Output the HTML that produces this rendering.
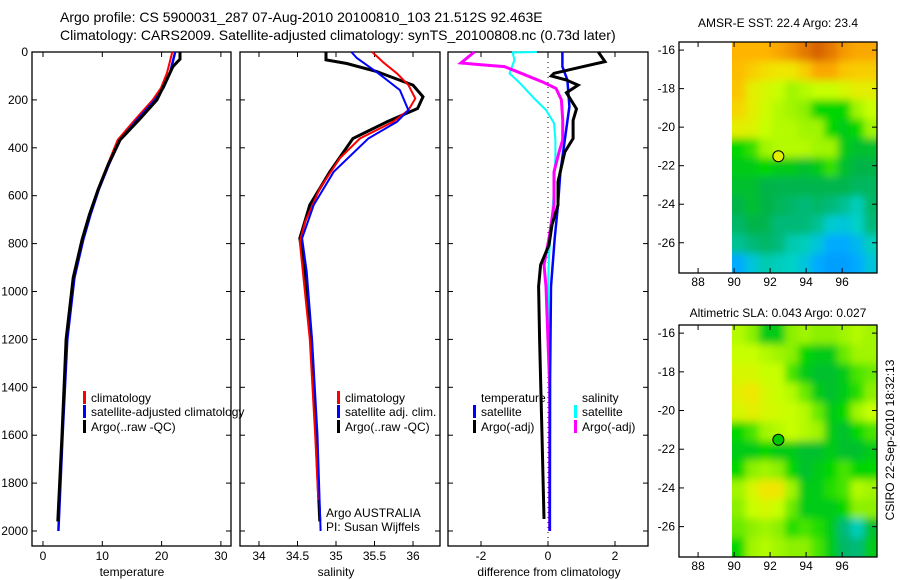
<!DOCTYPE html>
<html><head><meta charset="utf-8"><style>
body{margin:0;background:#fff;}
svg{display:block;font-family:"Liberation Sans",sans-serif;}
</style></head><body>
<svg id="chart" width="900" height="580" viewBox="0 0 900 580" xmlns="http://www.w3.org/2000/svg">
<defs>
<filter id="blur" x="-5%" y="-5%" width="110%" height="110%"><feGaussianBlur stdDeviation="4"/></filter>
<clipPath id="clip1"><rect x="732" y="42" width="145" height="231"/></clipPath>
<clipPath id="clip2"><rect x="732" y="325" width="145" height="232"/></clipPath>
</defs>
<text x="60" y="22" font-size="14">Argo profile: CS 5900031_287 07-Aug-2010 20100810_103 21.512S 92.463E</text>
<text x="60" y="40" font-size="14">Climatology: CARS2009. Satellite-adjusted climatology: synTS_20100808.nc (0.73d later)</text>
<g id="g"></g>
<text x="326" y="517" font-size="12">Argo AUSTRALIA</text>
<text x="326" y="531" font-size="12">PI: Susan Wijffels</text>
<text x="778" y="27" font-size="12" text-anchor="middle">AMSR-E SST: 22.4  Argo: 23.4</text>
<text x="778" y="317" font-size="12" text-anchor="middle">Altimetric SLA: 0.043  Argo: 0.027</text>
<text transform="translate(894,440) rotate(-90)" font-size="12" text-anchor="middle">CSIRO 22-Sep-2010 18:32:13</text>
</svg>
<script>
// ---- data ----
const depthTicks=[0,200,400,600,800,1000,1200,1400,1600,1800,2000];
const tempTicks=[0,10,20,30];
const salTicks=[34,34.5,35,35.5,36];
const salTickLabels=["34","34.5","35","35.5","36"];
const diffTicks=[-2,0,2];
const latTicks=[-16,-18,-20,-22,-24,-26];
const lonTicks=[88,90,92,94,96];

const tDepthArgo=[0,30,61,120,200,280,367,470,575,680,783,943,1200,1600,1960];
const tArgo=[23.1,23.1,21.9,20.8,19.2,16.3,13.0,11.0,9.3,7.8,6.6,5.1,3.9,3.2,2.5];
const tDepthClim=[0,89,150,200,280,367,470,575,680,783,943,1200,1600,1870];
const tClim=[21.8,20.9,19.9,18.5,15.6,12.6,10.9,9.2,7.9,6.7,5.2,4.0,3.3,2.7];
const tDepthSat=[0,89,150,200,280,367,470,575,680,783,943,1200,1600,2000];
const tSat=[22.3,21.4,20.3,18.9,16.0,13.0,11.1,9.4,8.0,6.8,5.3,4.1,3.3,2.6];

const sDepthArgo=[0,33,48,82,138,187,236,292,361,500,639,778,917,1200,1600,1960];
const sArgo=[34.87,34.87,35.14,35.53,36.0,36.13,36.06,35.66,35.22,34.92,34.66,34.53,34.6,34.68,34.74,34.79];
const sDepthClim=[0,42,89,138,194,243,292,361,444,570,708,792,1200,1600,1870];
const sClim=[35.47,35.61,35.79,35.94,36.03,35.94,35.74,35.31,35.05,34.79,34.6,34.53,34.66,34.73,34.77];
const sDepthSat=[0,25,89,159,243,292,361,500,639,778,917,1200,1600,2000];
const sSat=[35.2,35.27,35.55,35.83,35.94,35.79,35.42,34.97,34.71,34.56,34.62,34.69,34.76,34.8];

const dDepthT=[0,40,61,89,100,117,138,170,237,285,361,417,542,639,722,806,889,979,1200,1600,1950];
const dTArgo=[1.5,1.7,1.05,0.18,0.1,0.55,0.9,0.55,0.85,0.75,0.75,0.5,0.3,0.3,0.12,0.03,-0.22,-0.28,-0.25,-0.18,-0.12];
const dDepthTS=[0,61,117,228,367,500,639,778,979,1400,2000];
const dTSat=[0.43,0.43,0.58,0.64,0.5,0.37,0.3,0.2,0.09,0.06,0.05];
const dDepthS=[0,46,53,61,89,124,152,200,283,367,417,500,639,778,889,979,1400,2000];
const dSArgo=[-2.2,-2.6,-2.0,-1.3,-0.8,-0.18,0.24,0.4,0.44,0.44,0.33,0.18,0.18,0.03,-0.12,-0.06,0.05,0.05];
const dDepthC=[0,2,6,33,89,131,200,242,297,367,436,575,714,850,979,1400,2000];
const dSSat=[-0.33,-1.05,-1.05,-1.0,-1.15,-0.83,-0.37,-0.06,0.18,0.22,0.22,0.18,0.1,0.03,0.0,0.04,0.06];

const sstGrid=[
[0.88,0.88,0.88,0.9,0.93,0.97,1.0,0.97,0.92,0.9,0.9],
[0.87,0.85,0.83,0.82,0.82,0.85,0.9,0.9,0.86,0.85,0.85],
[0.86,0.8,0.78,0.76,0.72,0.74,0.76,0.76,0.78,0.8,0.8],
[0.84,0.8,0.77,0.74,0.72,0.7,0.62,0.62,0.62,0.72,0.76],
[0.8,0.79,0.76,0.74,0.74,0.72,0.72,0.62,0.6,0.62,0.72],
[0.62,0.65,0.72,0.74,0.74,0.74,0.72,0.72,0.6,0.58,0.58],
[0.6,0.6,0.62,0.6,0.6,0.58,0.6,0.65,0.58,0.56,0.56],
[0.58,0.58,0.56,0.55,0.55,0.55,0.55,0.55,0.55,0.53,0.53],
[0.56,0.58,0.56,0.54,0.52,0.5,0.52,0.5,0.48,0.45,0.52],
[0.52,0.56,0.55,0.5,0.5,0.5,0.48,0.43,0.42,0.44,0.5],
[0.48,0.5,0.52,0.5,0.46,0.45,0.42,0.38,0.38,0.4,0.45],
[0.38,0.42,0.46,0.45,0.44,0.42,0.38,0.36,0.36,0.38,0.42]];
const slaGrid=[
[0.74,0.7,0.6,0.6,0.7,0.72,0.7,0.7,0.72,0.74,0.72],
[0.76,0.76,0.74,0.72,0.7,0.62,0.6,0.6,0.68,0.72,0.72],
[0.78,0.78,0.76,0.76,0.66,0.6,0.58,0.58,0.6,0.66,0.68],
[0.8,0.82,0.78,0.76,0.74,0.68,0.6,0.58,0.6,0.64,0.7],
[0.78,0.8,0.78,0.77,0.76,0.74,0.68,0.6,0.62,0.72,0.76],
[0.62,0.66,0.72,0.74,0.76,0.74,0.72,0.6,0.58,0.62,0.66],
[0.6,0.6,0.62,0.6,0.6,0.58,0.58,0.6,0.58,0.58,0.6],
[0.62,0.7,0.72,0.7,0.62,0.58,0.6,0.62,0.66,0.62,0.62],
[0.72,0.78,0.82,0.82,0.72,0.6,0.6,0.64,0.66,0.74,0.72],
[0.7,0.76,0.78,0.76,0.68,0.6,0.6,0.6,0.62,0.7,0.7],
[0.68,0.7,0.72,0.7,0.64,0.66,0.64,0.6,0.5,0.45,0.58],
[0.62,0.72,0.74,0.72,0.7,0.7,0.66,0.6,0.52,0.5,0.6]];
const argoLon=92.46, argoLat=-21.51;

// ---- helpers ----
const NS="http://www.w3.org/2000/svg";
const G=document.getElementById('g');
function mk(tag,attrs,parent){const e=document.createElementNS(NS,tag);for(const k in attrs)e.setAttribute(k,attrs[k]);(parent||G).appendChild(e);return e;}
const yD=d=>52+d*0.2395;
const xT=t=>43+5.93*t;
const xS=s=>259+77*(s-34);
const xDf=v=>548+33.5*v;

function panel(name,x0,x1,y0,y1){
  const r=mk('rect',{x:x0,y:y0,width:x1-x0,height:y1-y0,fill:'none',stroke:'#000','stroke-width':1.3});
  
  
}
function line(name,xs,ys,fx,color,w){
  const pts=xs.map((v,i)=>fx(v).toFixed(1)+','+yD(ys[i]).toFixed(1)).join(' ');
  const p=mk('polyline',{points:pts,fill:'none',stroke:color,'stroke-width':w,'stroke-linejoin':'miter'});
  
  
}
function txt(name,x,y,s,anchor,size){
  const t=mk('text',{x:x,y:y,'font-size':size||12,'text-anchor':anchor||'start'});
  t.textContent=s;
  
  
}
function hticks(x0,x1,y0,y1,vals,f){
  vals.forEach(v=>{const x=f(v);mk('line',{x1:x,x2:x,y1:y1,y2:y1-5,stroke:'#000'});mk('line',{x1:x,x2:x,y1:y0,y2:y0+5,stroke:'#000'});});
}
function vticks(x0,x1,vals,f){
  vals.forEach(v=>{const y=f(v);mk('line',{x1:x0,x2:x0+5,y1:y,y2:y,stroke:'#000'});mk('line',{x1:x1,x2:x1-5,y1:y,y2:y,stroke:'#000'});});
}
function legend(name,x,y,color,label){
  const r=mk('rect',{x:x,y:y-11,width:3,height:13,fill:color});
  
  
  txt(name,x+8,y,label);
}

const T0=52,B0=546;
// Panel 1 temperature
panel('temperature-panel',32,231,T0,B0);
hticks(32,231,T0,B0,tempTicks,xT);vticks(32,231,depthTicks,yD);
tempTicks.forEach(v=>txt('temp-tick-'+v,xT(v),560,String(v),'middle'));
depthTicks.forEach(v=>txt('depth-tick-'+v,28,yD(v)+4,String(v),'end'));
txt('temperature-axis-title',xT(15),576,'temperature','middle');
line('temp-climatology',tClim,tDepthClim,xT,'#f00',2);
line('temp-satellite',tSat,tDepthSat,xT,'#00f',2.5);
line('temp-argo',tArgo,tDepthArgo,xT,'#000',3);
// Panel 2 salinity
panel('salinity-panel',240,440,T0,B0);
hticks(240,440,T0,B0,salTicks,xS);vticks(240,440,depthTicks,yD);
salTicks.forEach((v,i)=>txt('sal-tick-'+i,xS(v),560,salTickLabels[i],'middle'));
txt('salinity-axis-title',xS(35),576,'salinity','middle');
line('sal-argo',sArgo,sDepthArgo,xS,'#000',3);
line('sal-climatology',sClim,sDepthClim,xS,'#f00',2);
line('sal-satellite',sSat,sDepthSat,xS,'#00f',2);
// Panel 3 difference
panel('difference-panel',448,648,T0,B0);
hticks(448,648,T0,B0,diffTicks,xDf);vticks(448,648,depthTicks,yD);
diffTicks.forEach(v=>txt('diff-tick-'+v,xDf(v),560,String(v),'middle'));
txt('difference-axis-title',xDf(0)+1,576,'difference from climatology','middle');
mk('line',{x1:xDf(0),x2:xDf(0),y1:T0,y2:B0,stroke:'#000','stroke-dasharray':'1,4'});
line('diff-sal-satellite',dSSat,dDepthC,xDf,'#0ff',2);
line('diff-sal-argo',dSArgo,dDepthS,xDf,'#f0f',3);
line('diff-temp-satellite',dTSat,dDepthTS,xDf,'#00f',2.5);
line('diff-temp-argo',dTArgo,dDepthT,xDf,'#000',3);

// legends
legend('legend-climatology',83,402,'#f00','climatology');
legend('legend-satellite-adjusted',83,416,'#00f','satellite-adjusted climatology');
legend('legend-argo',83,431,'#000','Argo(..raw -QC)');
legend('legend2-climatology',337,402,'#f00','climatology');
legend('legend2-satellite',337,416,'#00f','satellite adj. clim.');
legend('legend2-argo',337,431,'#000','Argo(..raw -QC)');
txt('legend3-temperature-header',481,402,'temperature');
txt('legend3-salinity-header',582,402,'salinity');
legend('legend3-temp-satellite',473,416,'#00f','satellite');
legend('legend3-temp-argo',473,431,'#000','Argo(-adj)');
legend('legend3-sal-satellite',574,416,'#0ff','satellite');
legend('legend3-sal-argo',574,431,'#f0f','Argo(-adj)');

// colormap
const stops=[[0.3,[20,120,255]],[0.38,[0,170,255]],[0.44,[0,210,200]],[0.5,[0,185,120]],[0.56,[0,180,70]],[0.62,[0,215,0]],[0.7,[140,240,0]],[0.76,[200,255,0]],[0.82,[240,230,0]],[0.88,[255,180,0]],[0.94,[240,140,0]],[1.0,[215,100,0]]];
function cmap(v){
  if(v<=stops[0][0])return 'rgb('+stops[0][1]+')';
  for(let i=1;i<stops.length;i++){if(v<=stops[i][0]){const a=stops[i-1],b=stops[i],t=(v-a[0])/(b[0]-a[0]);return 'rgb('+a[1].map((c,k)=>Math.round(c+(b[1][k]-c)*t)).join(',')+')';}}
  return 'rgb('+stops[stops.length-1][1]+')';
}
function map(name,grid,top,bottom,dotColor,clipId){
  const L=679,R=877;
  const latTop=-15.58, latBot=-27.57;
  const yL=la=>top+(latTop-la)/(latTop-latBot)*(bottom-top);
  const xL=lo=>L+(lo-86.94)*18;
  const nr=grid.length,nc=grid[0].length,lon0=89.9,lon1=97.94;
  const cw=(xL(lon1)-xL(lon0))/nc,ch=(bottom-top)/nr;
  const clipG=mk('g',{'clip-path':'url(#'+clipId+')'});
  const blurG=mk('g',{filter:'url(#blur)'},clipG);
  for(let i=-1;i<=nr;i++){for(let j=-1;j<=nc;j++){
    const v=grid[Math.min(nr-1,Math.max(0,i))][Math.min(nc-1,Math.max(0,j))];
    const c=mk('rect',{x:(xL(lon0)+j*cw).toFixed(2),y:(top+i*ch).toFixed(2),width:(cw+0.6).toFixed(2),height:(ch+0.6).toFixed(2),fill:cmap(v)},blurG);
    
    
  }}
  const d=mk('circle',{cx:xL(argoLon),cy:yL(argoLat),r:5.5,fill:dotColor,stroke:'#000','stroke-width':1});
  
  
  panel(name+'-frame',L,R,top,bottom);
  latTicks.forEach(v=>{const y=yL(v);mk('line',{x1:L,x2:L+5,y1:y,y2:y,stroke:'#000'});mk('line',{x1:R,x2:R-5,y1:y,y2:y,stroke:'#000'});txt(name+'-lat-'+v,675,y+4,String(v),'end');});
  lonTicks.forEach(v=>{const x=xL(v);mk('line',{x1:x,x2:x,y1:bottom,y2:bottom-5,stroke:'#000'});mk('line',{x1:x,x2:x,y1:top,y2:top+5,stroke:'#000'});txt(name+'-lon-'+v,x,bottom+13,String(v),'middle');});
}
map('sst-map',sstGrid,42,273,'#e0f000','clip1');
map('sla-map',slaGrid,325,557,'#00c800','clip2');
</script>
</body></html>
